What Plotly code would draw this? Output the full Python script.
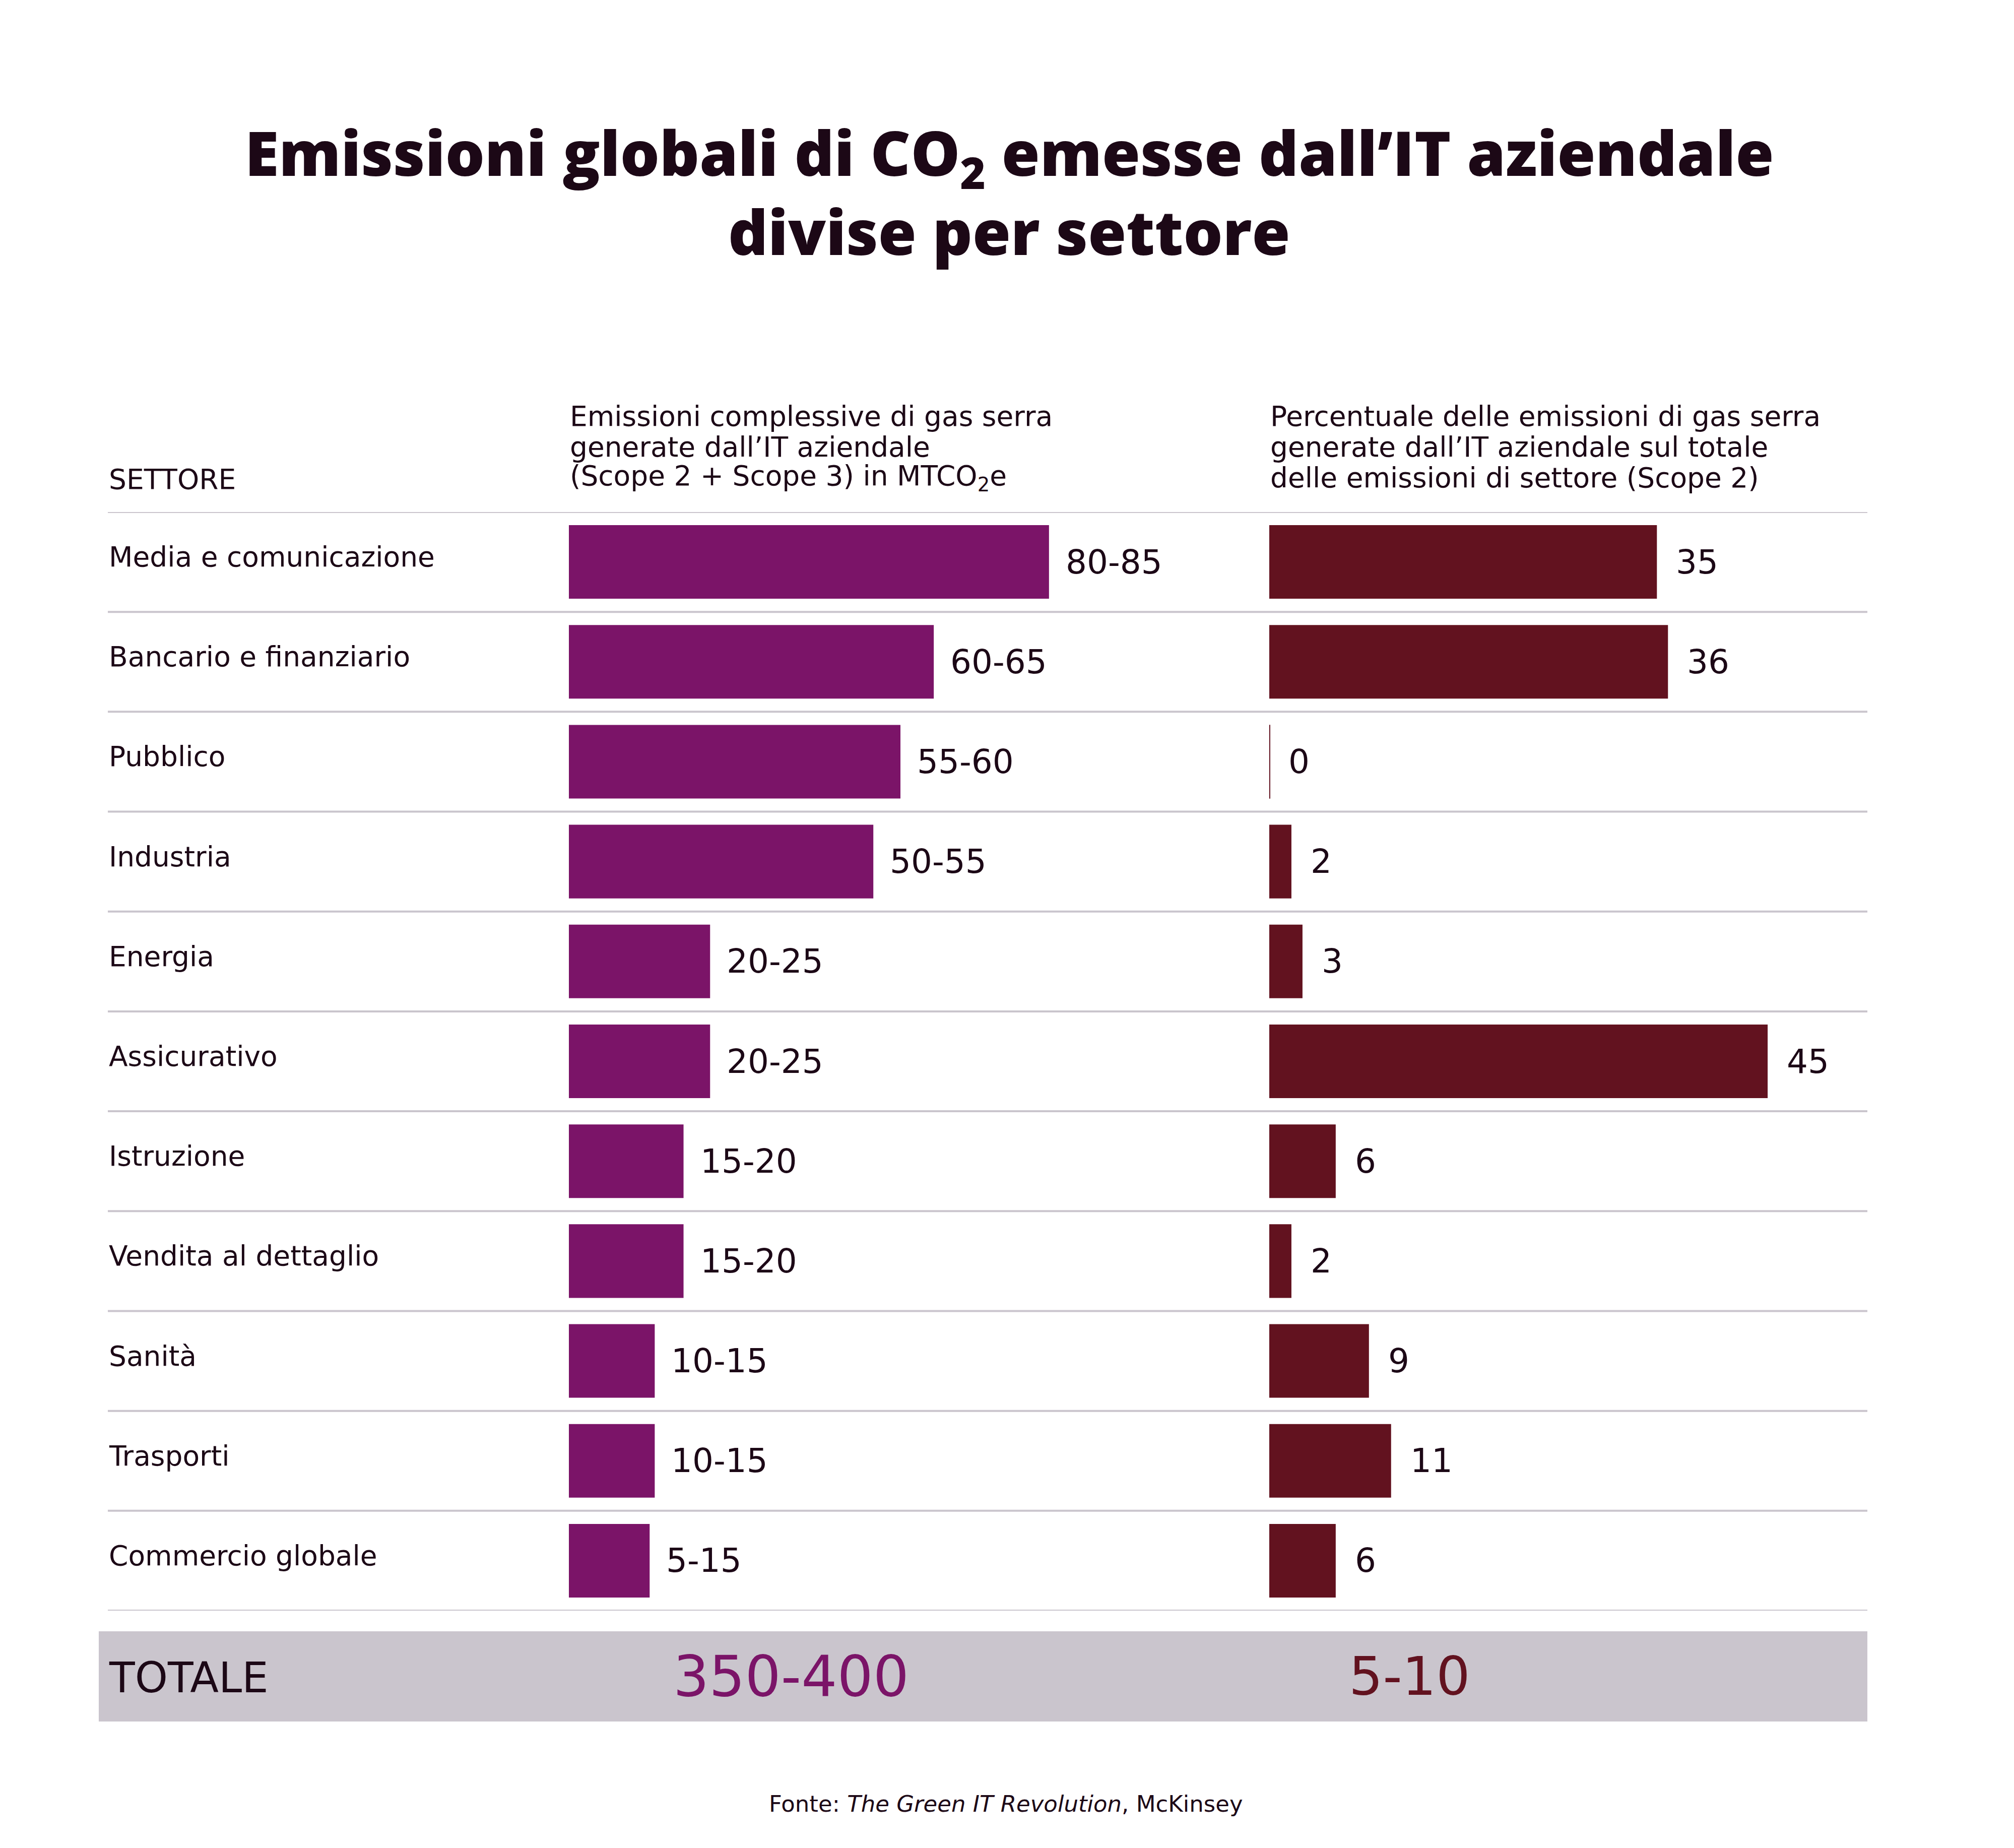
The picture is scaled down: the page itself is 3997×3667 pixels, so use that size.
import plotly.graph_objects as go

W, H = 3997, 3667          # target page size
PAD = 8                    # default body margin of the html page
FW, FH = W - 2 * PAD, H - 2 * PAD

# ---------------- data ----------------
sectors = [
    "Media e comunicazione", "Bancario e finanziario", "Pubblico", "Industria",
    "Energia", "Assicurativo", "Istruzione", "Vendita al dettaglio", "Sanità",
    "Trasporti", "Commercio globale",
]
emission_bar = [85, 64.6, 58.7, 53.9, 25, 25, 20.3, 20.3, 15.2, 15.2, 14.3]
emission_labels = ["80-85", "60-65", "55-60", "50-55", "20-25", "20-25",
                   "15-20", "15-20", "10-15", "10-15", "5-15"]
share_values = [35, 36, 0, 2, 3, 45, 6, 2, 9, 11, 6]
share_labels = ["35", "36", "0", "2", "3", "45", "6", "2", "9", "11", "6"]
total_label = "TOTALE"
total_emissions = "350-400"
total_share = "5-10"

title_lines = ["Emissioni globali di CO<sub>2</sub> emesse dall’IT aziendale",
               "divise per settore"]
col0_header = "SETTORE"
col1_header = ["Emissioni complessive di gas serra",
               "generate dall’IT aziendale",
               "(Scope 2 + Scope 3) in MTCO<sub>2</sub>e"]
col2_header = ["Percentuale delle emissioni di gas serra",
               "generate dall’IT aziendale sul totale",
               "delle emissioni di settore (Scope 2)"]
source_text = "Fonte: <i>The Green IT Revolution</i>, McKinsey"

# ---------------- style ----------------
DARK = "#1C0816"
PURPLE = "#7B1468"
RED = "#62121F"
GRAY = "#CAC5CD"
BODY = "DejaVu Sans"
TITLE_FONT = "Open Sans"


def px(x):
    return (x - PAD) / FW


def py(y):
    return 1 - (y - PAD) / FH


n = len(sectors)
top_px, bottom_px = 1016, 3196
left_px, right_px = 214, 3706
c1_start, c1_end, c1_scale = 1129, 2400, 11.21   # px per unit
c2_start, c2_end, c2_scale = 2519, 3720, 21.98

fig = go.Figure()
fig.add_trace(go.Bar(
    x=emission_bar, y=sectors, orientation="h", xaxis="x", yaxis="y",
    marker=dict(color=PURPLE, line=dict(width=0)), width=0.737,
    hoverinfo="skip",
))
fig.add_trace(go.Bar(
    x=share_values, y=sectors, orientation="h", xaxis="x2", yaxis="y",
    marker=dict(color=RED, line=dict(width=0)), width=0.737,
    hoverinfo="skip",
))

shapes = []
shapes.append(dict(type="rect", xref="paper", yref="paper",
                   x0=px(196), x1=px(3706), y0=py(3416), y1=py(3237),
                   fillcolor=GRAY, line=dict(width=0), layer="below"))
for i in range(n + 1):
    shapes.append(dict(type="line", xref="paper", yref="y",
                       x0=px(left_px), x1=px(right_px), y0=i - 0.5, y1=i - 0.5,
                       line=dict(color=GRAY, width=4), layer="below"))
for i, v in enumerate(share_values):
    if v == 0:
        shapes.append(dict(type="line", xref="x2", yref="y",
                           x0=0, x1=0, y0=i - 0.37, y1=i + 0.37,
                           line=dict(color=RED, width=4)))

ann = []
for s, v, lab in zip(sectors, emission_bar, emission_labels):
    ann.append(dict(x=v, y=s, xref="x", yref="y", text=lab, showarrow=False,
                    xanchor="left", yanchor="middle", xshift=31,
                    font=dict(family=BODY, size=66, color=DARK)))
for s, v, lab in zip(sectors, share_values, share_labels):
    ann.append(dict(x=v, y=s, xref="x2", yref="y", text=lab, showarrow=False,
                    xanchor="left", yanchor="middle", xshift=36,
                    font=dict(family=BODY, size=66, color=DARK)))
for s in sectors:
    ann.append(dict(x=px(left_px), y=s, xref="paper", yref="y", text=s,
                    showarrow=False, xanchor="left", yanchor="middle", yshift=10,
                    font=dict(family=BODY, size=55, color=DARK)))

# headers
ann.append(dict(x=px(left_px), y=py(951), xref="paper", yref="paper", text=col0_header,
                showarrow=False, xanchor="left", yanchor="middle",
                font=dict(family=BODY, size=55, color=DARK)))
for k, (l1, l2) in enumerate(zip(col1_header, col2_header)):
    yy = py(826 + 61 * k)
    ann.append(dict(x=px(c1_start), y=yy, xref="paper", yref="paper", text=l1,
                    showarrow=False, xanchor="left", yanchor="middle",
                    font=dict(family=BODY, size=55, color=DARK)))
    ann.append(dict(x=px(c2_start), y=yy, xref="paper", yref="paper", text=l2,
                    showarrow=False, xanchor="left", yanchor="middle",
                    font=dict(family=BODY, size=55, color=DARK)))

# title
title_y = [309, 459]
for k, line in enumerate(title_lines):
    ann.append(dict(x=px(2003), y=py(title_y[k]), xref="paper", yref="paper",
                    text=line, showarrow=False, xanchor="center", yanchor="middle",
                    font=dict(family=TITLE_FONT, size=123, color=DARK, weight=800)))

# totals
ann.append(dict(x=px(left_px), y=py(3329), xref="paper", yref="paper", text=total_label,
                showarrow=False, xanchor="left", yanchor="middle",
                font=dict(family=BODY, size=83, color=DARK)))
ann.append(dict(x=px(1570), y=py(3326), xref="paper", yref="paper", text=total_emissions,
                showarrow=False, xanchor="center", yanchor="middle",
                font=dict(family=BODY, size=112, color=PURPLE)))
ann.append(dict(x=px(2797), y=py(3326), xref="paper", yref="paper", text=total_share,
                showarrow=False, xanchor="center", yanchor="middle",
                font=dict(family=BODY, size=106, color=RED)))

# source
ann.append(dict(x=px(1996), y=py(3579), xref="paper", yref="paper", text=source_text,
                showarrow=False, xanchor="center", yanchor="middle",
                font=dict(family=BODY, size=45, color=DARK)))

hidden = dict(visible=False, showgrid=False, zeroline=False, fixedrange=True)
fig.update_layout(
    width=FW, height=FH, autosize=False,
    margin=dict(l=0, r=0, t=0, b=0),
    paper_bgcolor="white", plot_bgcolor="rgba(0,0,0,0)",
    showlegend=False, barmode="overlay",
    xaxis=dict(domain=[px(c1_start), px(c1_end)],
               range=[0, (c1_end - c1_start) / c1_scale], anchor="y", **hidden),
    xaxis2=dict(domain=[px(c2_start), px(c2_end)],
                range=[0, (c2_end - c2_start) / c2_scale], anchor="y", **hidden),
    yaxis=dict(domain=[py(bottom_px), py(top_px)], range=[n - 0.5, -0.5],
               type="category", categoryorder="array", categoryarray=sectors,
               **hidden),
    shapes=shapes,
    annotations=ann,
)

fig.write_html("out.html", config={"displayModeBar": False})
